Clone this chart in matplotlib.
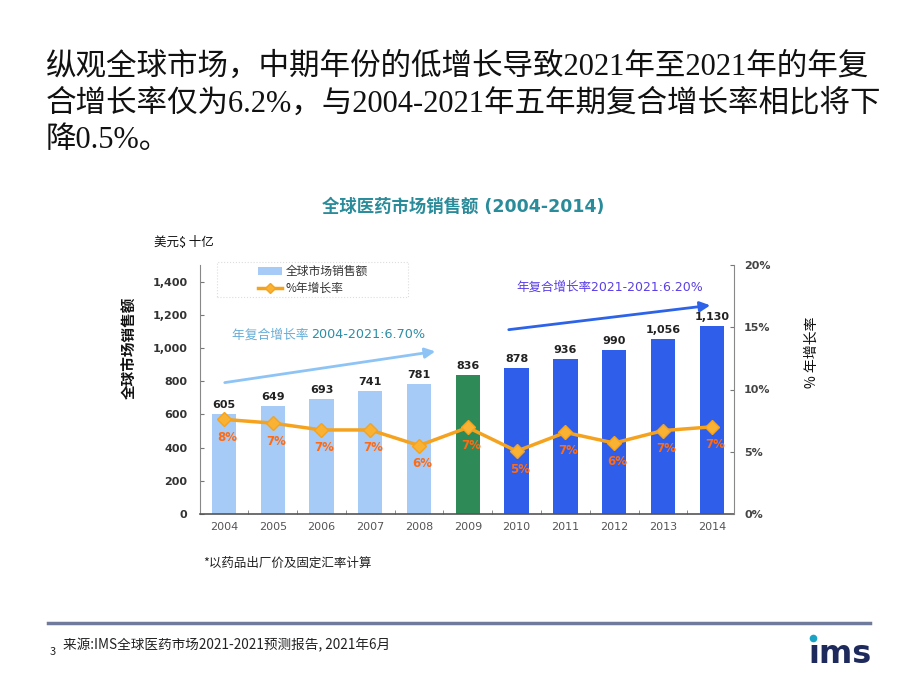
import matplotlib
matplotlib.use('Agg')
import matplotlib.pyplot as plt
from matplotlib.lines import Line2D
from matplotlib.patches import Patch, Rectangle, FancyArrowPatch
from matplotlib.ticker import FixedLocator
import numpy as np

plt.rcParams['font.family'] = ['DejaVu Sans', 'Noto Sans CJK SC']

# ---------------- data ----------------
years = ['2004', '2005', '2006', '2007', '2008', '2009', '2010', '2011', '2012', '2013', '2014']
sales = [605, 649, 693, 741, 781, 836, 878, 936, 990, 1056, 1130]
growth = [7.6, 7.3, 6.75, 6.75, 5.5, 6.95, 5.05, 6.55, 5.7, 6.7, 7.0]
growth_labels = ['8%', '7%', '7%', '7%', '6%', '7%', '5%', '7%', '6%', '7%', '7%']
bar_group = ['hist'] * 5 + ['base'] + ['fcst'] * 5
left_ticks = [0, 200, 400, 600, 800, 1000, 1200, 1400]
right_ticks = [0, 5, 10, 15, 20]

group_colors = {'hist': '#A6CBF7', 'base': '#2E8B57', 'fcst': '#2F5FEA'}
LINE_C = '#F5A21E'
PCT_C = '#FF6A13'

W, H = 920, 690
fig = plt.figure(figsize=(9.2, 6.9), dpi=100)
fig.patch.set_facecolor('white')


def fx(px):
    return px / W


def fy(py):
    return 1 - py / H


CJK = ['Noto Sans CJK SC', 'DejaVu Sans']
LAT_CJK = ['DejaVu Sans', 'Noto Sans CJK SC']
SERIF_CJK = ['Liberation Serif', 'Noto Sans CJK SC']

# ---------------- heading ----------------
heading = ['纵观全球市场，中期年份的低增长导致2021年至2021年的年复',
           '合增长率仅为6.2%，与2004-2021年五年期复合增长率相比将下',
           '降0.5%。']
for i, line in enumerate(heading):
    fig.text(fx(46), fy(67 + 36.7 * i), line, fontsize=22, family=SERIF_CJK,
             color='#111111', va='center', ha='left')

# ---------------- chart ----------------
ax = fig.add_axes([fx(200), fy(514), fx(734.3) - fx(200), fy(265) - fy(514)])
x = np.arange(len(years))
colors = [group_colors[g] for g in bar_group]
ax.bar(x, sales, width=0.5, color=colors, zorder=2)
ax.set_xlim(-0.49, len(years) - 1 + 0.46)
ax.set_ylim(0, 1500)
ax.set_yticks(left_ticks)
ax.set_yticklabels([f'{v:,}' for v in left_ticks], fontsize=8, fontweight='bold', color='#333333')
ax.set_xticks(x)
ax.set_xticklabels(years, fontsize=8, color='#555555')
ax.xaxis.set_minor_locator(FixedLocator(x[:-1] + 0.5))
ax.tick_params(axis='x', which='major', length=0, pad=6)
ax.tick_params(axis='x', which='minor', direction='in', length=3, color='#777777')
ax.tick_params(axis='y', direction='in', length=3, pad=9, color='#777777')
for s in ['top', 'right']:
    ax.spines[s].set_visible(False)
ax.spines['left'].set_color('#888888')
ax.spines['bottom'].set_color('#555555')
ax.spines['bottom'].set_linewidth(1.2)
ax.patch.set_alpha(0)

for xi, v in zip(x, sales):
    ax.annotate(f'{v:,}', (xi, v), xytext=(0, 4), textcoords='offset pixels',
                ha='center', va='bottom', fontsize=8, fontweight='bold', color='#222222')

ax2 = ax.twinx()
ax2.set_ylim(0, 20)
ax2.set_yticks(right_ticks)
ax2.set_yticklabels([f'{v}%' for v in right_ticks], fontsize=8, fontweight='bold', color='#444444')
ax2.tick_params(axis='y', direction='in', length=3, pad=7, color='#777777')
for s in ['top', 'left', 'bottom']:
    ax2.spines[s].set_visible(False)
ax2.spines['right'].set_color('#888888')
ax2.plot(x, growth, color=LINE_C, lw=2.5, marker='D', ms=7, mfc='#F9B233',
         mec=LINE_C, zorder=3)
for xi, g, lbl in zip(x, growth, growth_labels):
    ax2.annotate(lbl, (xi, g), xytext=(3, -18), textcoords='offset pixels',
                 ha='center', va='center', fontsize=8.5, fontweight='bold', color=PCT_C)

# ---------------- titles / labels ----------------
fig.text(fx(463), fy(207), '全球医药市场销售额 (2004-2014)', fontsize=12.5, fontweight='bold',
         color='#2A8C9A', ha='center', va='center', family=LAT_CJK)
fig.text(fx(154), fy(243), '美元$ 十亿', fontsize=9, color='#111111', ha='left', va='center',
         family=CJK)
fig.text(fx(130), fy(348), '全球市场销售额', fontsize=10.5, fontweight='bold', rotation=90,
         ha='center', va='center', family=CJK, color='#111111')
fig.text(fx(812), fy(352), '% 年增长率', fontsize=10, rotation=90, ha='center', va='center',
         family=CJK, color='#111111')

# legend (dotted frame drawn separately, wide box like the reference)
fig.add_artist(Rectangle((fx(217), fy(297)), fx(408) - fx(217), fy(262) - fy(297),
                         transform=fig.transFigure, fill=False, edgecolor='#DDDDDD',
                         linestyle=':', lw=0.8))
handles = [Patch(facecolor=group_colors['hist'], edgecolor='none'),
           Line2D([], [], color=LINE_C, lw=2.5, marker='D', ms=5, mfc='#F9B233')]
leg = fig.legend(handles, ['全球市场销售额', '%年增长率'], loc='upper left',
                 bbox_to_anchor=(fx(255), fy(262)), frameon=False,
                 prop={'family': CJK, 'size': 8.5}, handlelength=2.0, handletextpad=0.35,
                 borderpad=0.25, labelspacing=0.3, borderaxespad=0, handleheight=0.6)
for t in leg.get_texts():
    t.set_color('#333333')

# CAGR annotations
t1 = fig.text(fx(232), fy(335), '年复合增长率 ', fontsize=9.2, color='#6AAED6', ha='left',
              va='center', family=CJK)
ax.annotate('2004-2021:6.70%', xy=(1, 0.5), xycoords=t1, ha='left', va='center',
            fontsize=9.2, color='#2B8DA6', family=['DejaVu Sans'])
fig.text(fx(516), fy(287), '年复合增长率2021-2021:6.20%', fontsize=9, color='#5A3FE6',
         ha='left', va='center', family=LAT_CJK)

fig.add_artist(FancyArrowPatch((fx(222), fy(383)), (fx(438), fy(351)),
               transform=fig.transFigure, arrowstyle='-|>,head_length=6,head_width=3',
               color='#8EC4F5', lw=2, mutation_scale=1))
fig.add_artist(FancyArrowPatch((fx(506), fy(330)), (fx(713), fy(305)),
               transform=fig.transFigure, arrowstyle='-|>,head_length=6,head_width=3',
               color='#2D63E8', lw=2, mutation_scale=1))

# footnote
fig.text(fx(203), fy(563), '*以药品出厂价及固定汇率计算', fontsize=9, color='#222222',
         ha='left', va='center', family=CJK)

# bottom rule, source, page, logo
fig.add_artist(Line2D([fx(48), fx(870)], [fy(623), fy(623)], transform=fig.transFigure,
                      color='#707A9A', lw=2.5))
fig.text(fx(50), fy(652), '3', fontsize=8, color='#222222', ha='left', va='center', family=CJK)
fig.text(fx(63), fy(645), '来源:IMS全球医药市场2021-2021预测报告, 2021年6月', fontsize=9.8,
         color='#222222', ha='left', va='center', family=CJK)
fig.text(fx(808), fy(663), '\u0131ms', fontsize=23, fontweight='bold', color='#1F2A5C',
         ha='left', va='baseline', family=['DejaVu Sans'])
fig.add_artist(Line2D([fx(813)], [fy(638)], transform=fig.transFigure, marker='o', ms=5.5,
                      color='#1BA3C6', mec='none', lw=0))

fig.savefig('out.png', dpi=100, facecolor='white')
